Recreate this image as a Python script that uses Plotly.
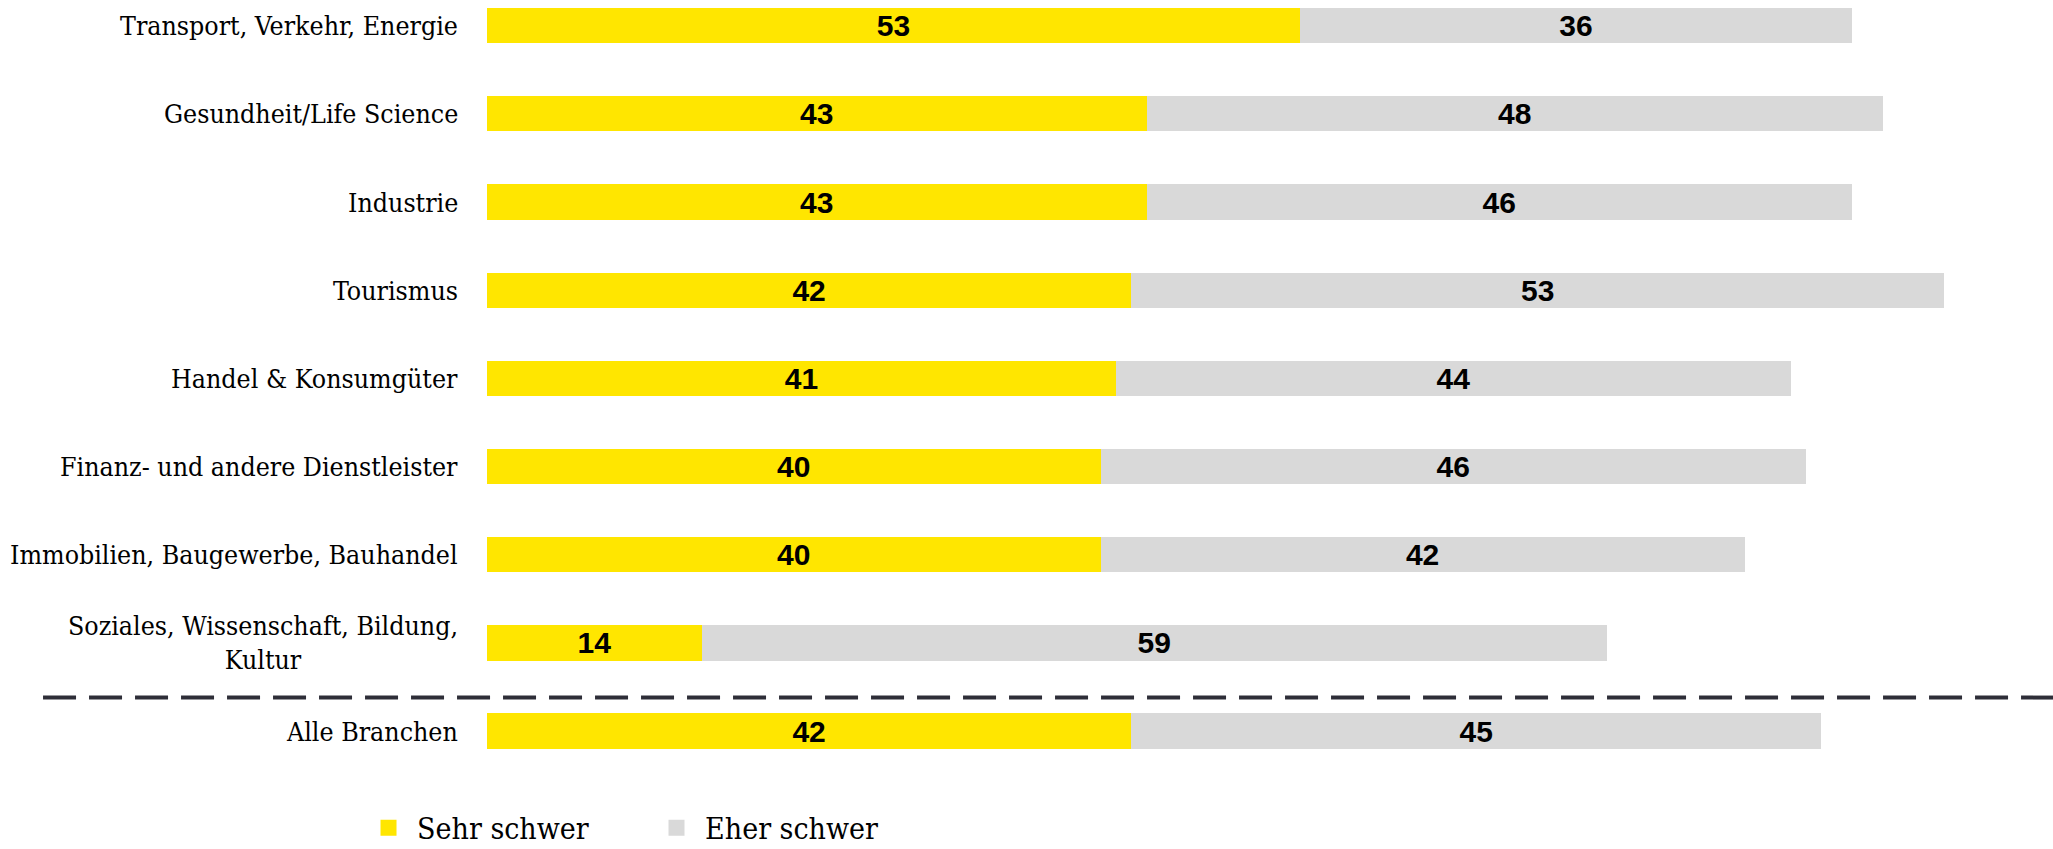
import plotly.graph_objects as go

categories = [
    "Transport, Verkehr, Energie",
    "Gesundheit/Life Science",
    "Industrie",
    "Tourismus",
    "Handel & Konsumgüter",
    "Finanz- und andere Dienstleister",
    "Immobilien, Baugewerbe, Bauhandel",
    "Soziales, Wissenschaft, Bildung,<br>Kultur",
    "Alle Branchen",
]
sehr_schwer = [53, 43, 43, 42, 41, 40, 40, 14, 42]
eher_schwer = [36, 48, 46, 53, 44, 46, 42, 59, 45]
series_names = ["Sehr schwer", "Eher schwer"]

YELLOW = "#FFE600"
GRAY = "#D9D9D9"
DARK = "#2E2E38"
LABEL_FONT = "DejaVu Serif Condensed, Liberation Serif, serif"
VALUE_FONT = "Liberation Sans, Arial, sans-serif"

ypos = list(range(len(categories)))

fig = go.Figure()
for vals, color, name in [(sehr_schwer, YELLOW, series_names[0]), (eher_schwer, GRAY, series_names[1])]:
    fig.add_trace(go.Bar(
        x=vals, y=ypos, orientation="h", name=name,
        marker=dict(color=color, line=dict(width=0)),
        width=0.40,
        text=[str(v) for v in vals],
        textposition="inside", insidetextanchor="middle",
        constraintext="none", textangle=0,
        textfont=dict(family=VALUE_FONT, size=30, color="#000000", weight="bold"),
        showlegend=False, hoverinfo="skip",
    ))
    fig.add_trace(go.Scatter(
        x=[None], y=[None], mode="markers", name="\u00a0" + name,
        marker=dict(symbol="square", size=19, color=color),
        showlegend=True,
    ))

for i, cat in enumerate(categories):
    fig.add_annotation(
        x=0, xref="paper", y=i, yref="y", text=cat,
        xanchor="right", yanchor="middle", align="center",
        xshift=-27, showarrow=False,
        font=dict(family=LABEL_FONT, size=26.5, color="#000000"),
    )

fig.add_shape(type="line", xref="paper", yref="y",
              x0=-0.2835, x1=1.0, y0=7.62, y1=7.62,
              line=dict(color=DARK, width=4, dash="33px,13px"))

fig.update_layout(
    width=2053, height=849,
    margin=dict(l=487, r=0, t=0, b=69),
    paper_bgcolor="white", plot_bgcolor="white",
    barmode="stack",
    xaxis=dict(range=[0, 102.1], visible=False, fixedrange=True),
    yaxis=dict(range=[8.555, -0.291], visible=False, fixedrange=True),
    legend=dict(orientation="h", xref="container", x=0.1795, xanchor="left",
                yref="container", y=0.025, yanchor="middle",
                traceorder="normal",
                font=dict(family=LABEL_FONT, size=30, color="#000000"),
                itemsizing="trace", entrywidth=243, entrywidthmode="pixels",
                bgcolor="rgba(0,0,0,0)"),
)

fig.write_html("out.html", config={"displayModeBar": False},
               post_script="document.body.style.margin='0';document.body.style.overflow='hidden';")
